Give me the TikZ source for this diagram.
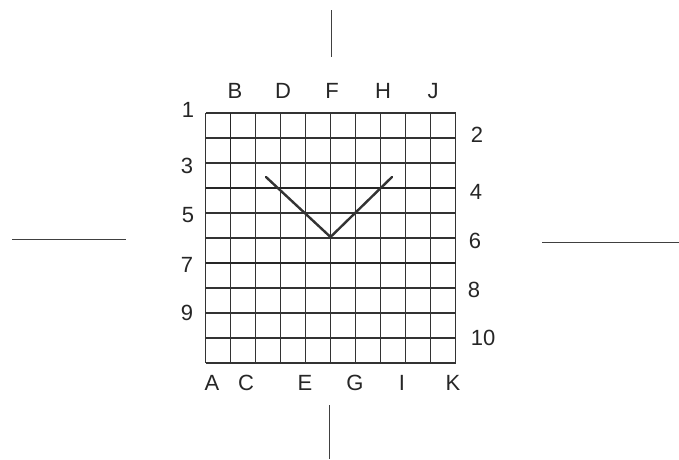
\documentclass[tikz,border=0pt]{standalone}
\usepackage{fontspec}
\setmainfont{Liberation Sans}
\begin{document}
\begin{tikzpicture}[x=1pt,y=-1pt,
  lbl/.style={inner sep=0pt,font=\fontsize{22}{26}\selectfont,text=black!85},
  gridline/.style={line width=1.3pt,black!80},
  heavyline/.style={line width=1.8pt,black!85},
  cross/.style={line width=1.4pt,black!75},
  vline/.style={line width=2.4pt,black!80,line cap=round,line join=miter}]
\useasboundingbox (0,0) rectangle (679,459);
\fill[white] (0,0) rectangle (679,459);
% grid
\def\gl{205.5}\def\gt{113}\def\gs{25}
\foreach \i in {0,...,10}{
  \draw[gridline] ({\gl+\i*\gs},\gt) -- ({\gl+\i*\gs},{\gt+10*\gs});
  \draw[gridline] (\gl,{\gt+\i*\gs}) -- ({\gl+10*\gs},{\gt+\i*\gs});
}
\draw[heavyline] ({\gl+1*\gs},\gt) -- ({\gl+1*\gs},{\gt+3*\gs});
\draw[heavyline] (\gl,{\gt+3*\gs}) -- ({\gl+10*\gs},{\gt+3*\gs});
\draw[heavyline] (\gl,{\gt+6*\gs}) -- ({\gl+10*\gs},{\gt+6*\gs});
% V
\coordinate (v1) at (266,177);
\coordinate (v2) at (330.5,237);
\coordinate (v3) at (392,177);
\draw[vline] (v1) -- (v2) -- (v3);
% labels top
\node[lbl] (B) at (235,91) {B};
\node[lbl] (D) at (283,91) {D};
\node[lbl] (F) at (332,91) {F};
\node[lbl] (H) at (383,91) {H};
\node[lbl] (J) at (433,91) {J};
% labels bottom
\node[lbl] (A) at (212,383) {A};
\node[lbl] (C) at (246,383) {C};
\node[lbl] (E) at (305,383) {E};
\node[lbl] (G) at (355,383) {G};
\node[lbl] (I) at (402,383) {I};
\node[lbl] (K) at (453,383) {K};
% labels left
\node[lbl] (n1) at (188,110) {1};
\node[lbl] (n3) at (187,166) {3};
\node[lbl] (n5) at (188,215) {5};
\node[lbl] (n7) at (187,265) {7};
\node[lbl] (n9) at (187,313) {9};
% labels right
\node[lbl] (n2) at (477,135) {2};
\node[lbl] (n4) at (476,192) {4};
\node[lbl] (n6) at (475,241) {6};
\node[lbl] (n8) at (474,290) {8};
\node[lbl] (n10) at (483,338) {10};
% crosshair marks
\coordinate (t1) at (331.5,10); \coordinate (t2) at (331.5,57);
\coordinate (b1) at (329.5,405); \coordinate (b2) at (329.5,459);
\coordinate (l1) at (12,239.5); \coordinate (l2) at (126,239.5);
\coordinate (r1) at (542,242.5); \coordinate (r2) at (679,242.5);
\draw[cross] (t1) -- (t2);
\draw[cross] (b1) -- (b2);
\draw[cross] (l1) -- (l2);
\draw[cross] (r1) -- (r2);
\end{tikzpicture}
\end{document}
